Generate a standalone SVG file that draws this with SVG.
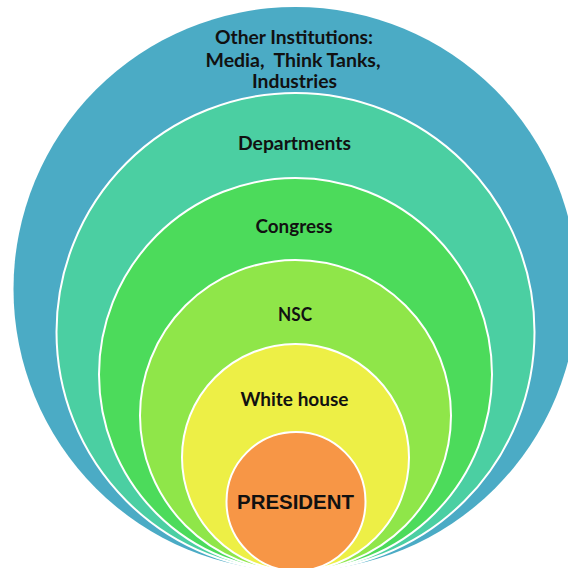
<svg xmlns="http://www.w3.org/2000/svg" width="568" height="568" viewBox="0 0 568 568">
<style>
.ring{stroke:#ffffff;stroke-width:2}
.lbl{font-family:Lato,"Open Sans","Liberation Sans",sans-serif;font-weight:bold;font-size:18.5px;fill:#111111;text-anchor:middle}
.pres{font-family:"Liberation Sans",Arial,sans-serif;font-weight:bold;font-size:20.5px;fill:#111111;text-anchor:middle}
</style>
<rect width="568" height="568" fill="#ffffff"/>
<g id="other-institutions">
<circle cx="295.5" cy="289" r="282" fill="#4BABC5"/>
<text class="lbl" x="294" y="44" textLength="158" lengthAdjust="spacingAndGlyphs">Other Institutions:</text>
<text class="lbl" x="293" y="66.5" textLength="175" lengthAdjust="spacingAndGlyphs" xml:space="preserve">Media,  Think Tanks,</text>
<text class="lbl" x="294.5" y="88" textLength="85" lengthAdjust="spacingAndGlyphs">Industries</text>
</g>
<g id="departments">
<circle class="ring" cx="295.5" cy="332" r="239" fill="#4BCFA2"/>
<text class="lbl" x="294.5" y="150" textLength="113" lengthAdjust="spacingAndGlyphs">Departments</text>
</g>
<g id="congress">
<circle class="ring" cx="295.5" cy="374.5" r="196.5" fill="#4CDB5B"/>
<text class="lbl" x="294" y="233" textLength="77" lengthAdjust="spacingAndGlyphs">Congress</text>
</g>
<g id="nsc">
<circle class="ring" cx="295.5" cy="415.5" r="155.5" fill="#8FE649"/>
<text class="lbl" x="295" y="321" textLength="34" lengthAdjust="spacingAndGlyphs">NSC</text>
</g>
<g id="white-house">
<circle class="ring" cx="295.5" cy="457.5" r="113.5" fill="#EDEF46"/>
<text class="lbl" x="294.5" y="406" textLength="108" lengthAdjust="spacingAndGlyphs">White house</text>
</g>
<g id="president">
<circle class="ring" cx="296" cy="501.5" r="69.5" fill="#F79646"/>
<text class="pres" x="295.5" y="509" textLength="117" lengthAdjust="spacingAndGlyphs">PRESIDENT</text>
</g>
<g id="connectors"/>
</svg>
